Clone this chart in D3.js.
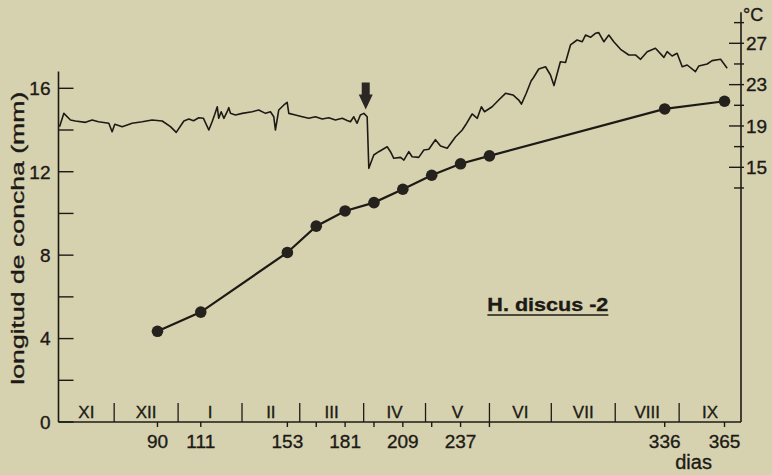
<!DOCTYPE html>
<html>
<head>
<meta charset="utf-8">
<script src="https://cdn.jsdelivr.net/npm/d3@7/dist/d3.min.js"></script>
<style>
  html, body { margin: 0; padding: 0; background: #d6d2b0; }
  svg { display: block; }
  text { font-family: "Liberation Sans", Arial, sans-serif; fill: #1d1a16; stroke: #1d1a16; stroke-width: 0.35px; }
</style>
</head>
<body>
<svg id="chart" width="772" height="475"></svg>
<script>
// Month bands along the day axis (boundaries in days) and their labels
const months = ["XI", "XII", "I", "II", "III", "IV", "V", "VI", "VII", "VIII", "IX"];
const monthBounds = [42, 69, 100, 131, 159, 190, 220, 251, 281, 312, 343, 373];

// Shell growth measurements: day and shell length (mm)
const growthDays = [90, 111, 153, 167, 181, 195, 209, 223, 237, 251, 336, 365];
const shellLength = [4.35, 5.27, 8.13, 9.39, 10.12, 10.52, 11.16, 11.83, 12.38, 12.76, 15.01, 15.38];

// Labelled day ticks
const dayLabels = [90, 111, 153, 181, 209, 237, 336, 365];

// Water temperature record: day and °C
const tempDays = [42.5, 44.6, 47.8, 50.2, 55.1, 58.3, 61.4, 66.4, 68.0, 69.3, 72.9, 77.7, 82.6, 87.4,
  92.3, 96.3, 99.1, 102.8, 105.2, 107.5, 110.0, 112.3, 114.9, 116.5, 117.8, 119.0, 119.7, 120.9,
  122.2, 123.8, 124.6, 125.4, 127.8, 131.1, 135.9, 139.1, 142.4, 144.8, 146.4, 147.2, 148.8, 151.3,
  152.9, 153.7, 156.9, 160.2, 163.4, 166.6, 169.9, 173.1, 176.3, 179.6, 182.0, 183.6, 185.2, 186.8,
  188.4, 190.1, 191.7, 192.5,
  194.9, 197.3, 201.4, 203.0, 204.6, 207.9, 209.5, 211.9, 213.5, 216.7, 219.2, 221.6, 224.8, 227.3,
  230.5, 234.5, 237.8, 239.4, 242.6, 245.1, 247.1, 248.6, 252.3, 255.5, 258.8, 262.4, 265.2, 266.5,
  268.8, 271.2, 272.4, 274.9, 278.2, 280.6, 282.3, 285.4, 287.9, 290.3, 293.5, 296.0, 297.6, 300.0,
  302.4, 304.0, 306.5, 308.9, 311.3, 314.6, 318.6, 321.8, 324.3, 327.5, 331.5, 335.6, 337.2, 339.6,
  342.0, 344.5, 346.9, 350.9, 352.5, 356.6, 359.0, 363.1, 366.3];
const tempValues = [18.93, 20.22, 19.58, 19.48, 19.35, 19.58, 19.41, 19.26, 18.44, 19.16, 18.93, 19.26, 19.41, 19.58,
  19.48, 18.93, 18.38, 19.48, 19.67, 19.51, 19.80, 19.74, 18.61, 19.41, 20.13, 20.86, 19.74, 20.38,
  19.74, 20.38, 20.77, 20.22, 20.06, 20.22, 20.38, 20.54, 20.22, 20.38, 19.89, 18.61, 20.54, 21.03,
  21.29, 20.22, 20.06, 19.89, 19.74, 19.89, 19.67, 19.80, 19.58, 19.74, 19.53, 19.41, 19.89, 19.26,
  20.06, 20.22, 19.89, 14.90,
  16.19, 16.51, 16.99, 16.51, 15.87, 15.96, 15.70, 16.51, 16.02, 15.96, 16.67, 16.74, 17.67, 17.06,
  16.84, 17.93, 18.61, 19.09, 20.16, 19.74, 20.86, 20.38, 20.86, 21.51, 22.16, 22.00, 21.51, 21.12,
  22.14, 23.35, 23.69, 24.51, 24.73, 23.93, 22.91, 25.22, 25.14, 26.84, 27.32, 27.15, 27.80, 27.58,
  27.97, 28.03, 27.15, 27.80, 27.15, 26.42, 25.87, 25.87, 25.45, 26.19, 26.52, 25.64, 26.19, 25.77,
  26.03, 24.73, 24.90, 24.25, 24.80, 25.00, 25.32, 25.45, 24.58];

// Temperature axis ticks
const tempTicks = [13, 15, 17, 19, 21, 23, 25, 27, 29];
const tempTickLabels = [15, 19, 23, 27];
const lengthTicks = [0, 2, 4, 6, 8, 10, 12, 14, 16];
const lengthTickLabels = [0, 4, 8, 12, 16];

// Event marker: day of transfer, arrow tip temperature
const markerDay = 191;
const markerTemp = 20.6;

const ink = "#1d1a16";
const svg = d3.select("#chart");

const x = d3.scaleLinear().domain([42, 373]).range([58.5, 741]);
const yL = d3.scaleLinear().domain([0, 16]).range([422, 88.3]);
const yT = d3.scaleLinear().domain([15, 27]).range([167.3, 43.3]);

// Left axis (shell length)
const left = svg.append("g").attr("transform", `translate(${x(42)},0)`);
left.append("line").attr("y1", yL(0)).attr("y2", yL(16.8)).attr("stroke", ink).attr("stroke-width", 1.6);
left.selectAll("line.tk").data(lengthTicks).join("line")
  .attr("class", "tk").attr("x1", 0).attr("x2", 15)
  .attr("y1", d => yL(d)).attr("y2", d => yL(d))
  .attr("stroke", ink).attr("stroke-width", 1.4);
left.selectAll("text").data(lengthTickLabels).join("text")
  .attr("x", -8).attr("y", d => yL(d)).attr("dy", "0.36em")
  .attr("text-anchor", "end").attr("font-size", 19).text(d => d);

svg.append("text")
  .attr("transform", `translate(${x(42) - 41},${(yL(0) + yL(16)) / 2 - 17}) rotate(-90)`)
  .attr("text-anchor", "middle").attr("dy", "0.35em")
  .attr("font-size", 19)
  .attr("textLength", 293).attr("lengthAdjust", "spacingAndGlyphs")
  .text("longitud de concha (mm)");

// Right axis (temperature)
const right = svg.append("g").attr("transform", `translate(${x(373)},0)`);
right.append("line").attr("y1", yL(0)).attr("y2", yT(30)).attr("stroke", ink).attr("stroke-width", 1.6);
right.selectAll("line.tk").data(tempTicks).join("line")
  .attr("class", "tk")
  .attr("x1", d => tempTickLabels.includes(d) ? -12 : -7).attr("x2", 3)
  .attr("y1", d => yT(d)).attr("y2", d => yT(d))
  .attr("stroke", ink).attr("stroke-width", 1.4);
right.selectAll("text.lb").data(tempTickLabels).join("text")
  .attr("class", "lb").attr("x", 5).attr("y", d => yT(d)).attr("dy", "0.36em")
  .attr("font-size", 19).text(d => d);
right.append("text").attr("x", 2).attr("y", yT(29.2)).attr("font-size", 18).text("°C");

// Bottom axis with month bands
const bottom = svg.append("g");
bottom.append("line").attr("x1", x(42)).attr("x2", x(373)).attr("y1", yL(0)).attr("y2", yL(0))
  .attr("stroke", ink).attr("stroke-width", 1.6);
bottom.selectAll("line.sep").data(monthBounds.slice(1, -1)).join("line")
  .attr("class", "sep").attr("x1", d => x(d)).attr("x2", d => x(d))
  .attr("y1", yL(0)).attr("y2", yL(0) - 19).attr("stroke", ink).attr("stroke-width", 1.3);
bottom.selectAll("text.mo").data(months).join("text")
  .attr("class", "mo")
  .attr("x", (d, i) => (x(monthBounds[i]) + x(monthBounds[i + 1])) / 2)
  .attr("y", yL(0) - 4)
  .attr("text-anchor", "middle").attr("font-size", 17)
  .attr("font-family", "'Liberation Serif', serif")
  .text(d => d);
bottom.selectAll("line.dt").data(growthDays).join("line")
  .attr("class", "dt").attr("x1", d => x(d)).attr("x2", d => x(d))
  .attr("y1", yL(0)).attr("y2", yL(0) + 5).attr("stroke", ink).attr("stroke-width", 1.4);
bottom.selectAll("text.dl").data(dayLabels).join("text")
  .attr("class", "dl").attr("x", d => x(d)).attr("y", yL(0) + 26)
  .attr("text-anchor", "middle").attr("font-size", 19).text(d => d);
svg.append("text").attr("x", x(350)).attr("y", yL(0) + 47)
  .attr("text-anchor", "middle").attr("font-size", 20).text("dias");

// Temperature trace
const tempLine = d3.line().x(d => x(d[0])).y(d => yT(d[1]));
svg.append("path")
  .datum(tempDays.map((d, i) => [d, tempValues[i]]))
  .attr("d", tempLine).attr("fill", "none")
  .attr("stroke", ink).attr("stroke-width", 1.6).attr("stroke-linejoin", "round");

// Growth curve
const growth = growthDays.map((d, i) => [d, shellLength[i]]);
svg.append("path")
  .datum(growth)
  .attr("d", d3.line().x(d => x(d[0])).y(d => yL(d[1])))
  .attr("fill", "none").attr("stroke", ink).attr("stroke-width", 2.2);
svg.selectAll("circle.pt").data(growth).join("circle")
  .attr("class", "pt").attr("cx", d => x(d[0])).attr("cy", d => yL(d[1]))
  .attr("r", 5.8).attr("fill", "#25211d");

// Transfer arrow
const ax = x(markerDay), ay = yT(markerTemp);
svg.append("path")
  .attr("d", `M${ax},${ay} L${ax - 7},${ay - 15} L${ax - 4},${ay - 15} L${ax - 4},${ay - 27}
              L${ax + 4},${ay - 27} L${ax + 4},${ay - 15} L${ax + 7},${ay - 15} Z`)
  .attr("fill", "#2b2723");

// Series label
const labelDay = 250, labelLen = 5.32;
svg.append("text").attr("x", x(labelDay)).attr("y", yL(labelLen))
  .attr("font-size", 19).attr("font-weight", "bold")
  .attr("textLength", 121).attr("lengthAdjust", "spacingAndGlyphs")
  .text("H. discus -2");
svg.append("line").attr("x1", x(labelDay)).attr("x2", x(labelDay) + 121)
  .attr("y1", yL(labelLen) + 4).attr("y2", yL(labelLen) + 4)
  .attr("stroke", ink).attr("stroke-width", 1.6);
</script>
</body>
</html>
